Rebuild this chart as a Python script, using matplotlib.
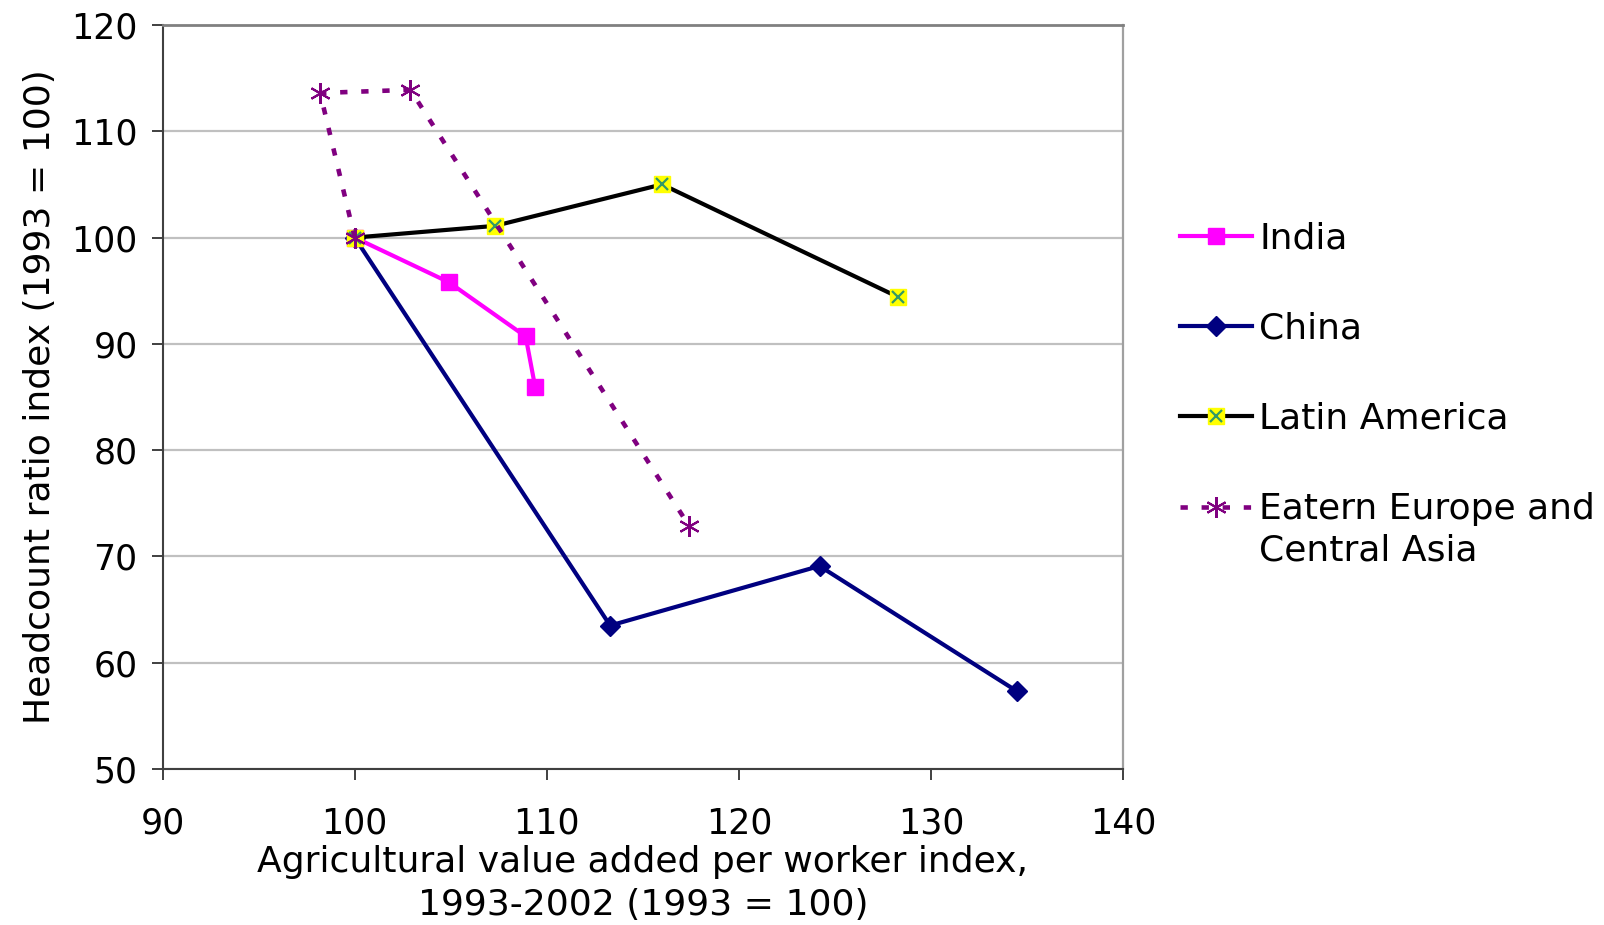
import matplotlib.pyplot as plt

# values (index, 1993 = 100)
india_x = [100, 104.9, 108.9, 109.4]
india_y = [100, 95.8, 90.7, 85.9]

china_x = [100, 113.3, 124.2, 134.5]
china_y = [100, 63.5, 69.1, 57.3]

latam_x = [100, 107.3, 116.0, 128.3]
latam_y = [100, 101.1, 105.0, 94.4]

eeca_x = [100, 98.2, 102.9, 117.4]
eeca_y = [100, 113.6, 113.9, 72.9]

xticks = [90, 100, 110, 120, 130, 140]
yticks = [50, 60, 70, 80, 90, 100, 110, 120]

plt.rcParams["font.family"] = ["DejaVu Sans"]

fig = plt.figure(figsize=(16.04, 9.25), dpi=100)
ax = fig.add_axes([0.1014, 0.1686, 0.5987, 0.8044])

# gridlines
ax.set_axisbelow(True)
ax.yaxis.grid(True, color="#c0c0c0", linewidth=1.6)

# series (drawing order so the shared 100/100 point stacks like the original)
ch, = ax.plot(china_x, china_y, color="#000080", lw=3, marker="D",
              ms=10.5, mfc="#000080", mec="#000080")
ind, = ax.plot(india_x, india_y, color="#ff00ff", lw=3, marker="s",
               ms=12, mfc="#ff00ff", mec="#ff00ff")
la, = ax.plot(latam_x, latam_y, color="black", lw=3, marker="s",
              ms=11.5, mfc="#ffff00", mec="#ffff00")
lax, = ax.plot(latam_x, latam_y, ls="none", marker="x", ms=8.5,
               mec="#339966", mew=1.6)
ee, = ax.plot(eeca_x, eeca_y, color="#800080", lw=3.3, ls=(0, (1.6, 3.0)),
              marker=(6, 2, 0), ms=15, mec="#800080", mew=1.5)

ax.set_xlim(90, 140)
ax.set_ylim(50, 120)
ax.set_xticks(xticks)
ax.set_yticks(yticks)
ax.tick_params(direction="out", length=8, width=1.4, color="#404040",
               labelsize=25)
ax.tick_params(axis="x", pad=19)
ax.tick_params(axis="y", pad=10)

for s in ["left", "bottom"]:
    ax.spines[s].set_color("#404040")
    ax.spines[s].set_linewidth(1.5)
ax.spines["top"].set_color("#808080")
ax.spines["top"].set_linewidth(2)
ax.spines["right"].set_color("#a0a0a0")
ax.spines["right"].set_linewidth(1.6)

ax.set_xlabel("Agricultural value added per worker index,\n1993-2002 (1993 = 100)",
              fontsize=26, labelpad=3, linespacing=1.33)
ax.set_ylabel("Headcount ratio index (1993 = 100)", fontsize=26, labelpad=10)

leg = fig.legend([ind, ch, (la, lax), ee],
                 ["India", "China", "Latin America", "Eatern Europe and"],
                 loc="upper left", bbox_to_anchor=(0.7265, 0.7765),
                 frameon=False, fontsize=26, handlelength=2.0,
                 handletextpad=0.2, labelspacing=1.56, borderaxespad=0)

last = leg.get_texts()[3]
fig.canvas.draw()
ann = ax.annotate("Central Asia", xy=(0, 0), xycoords=last,
                  xytext=(0, -5), textcoords="offset points",
                  va="top", ha="left", fontsize=26, annotation_clip=False)

fig.savefig("out.png", dpi=100)
